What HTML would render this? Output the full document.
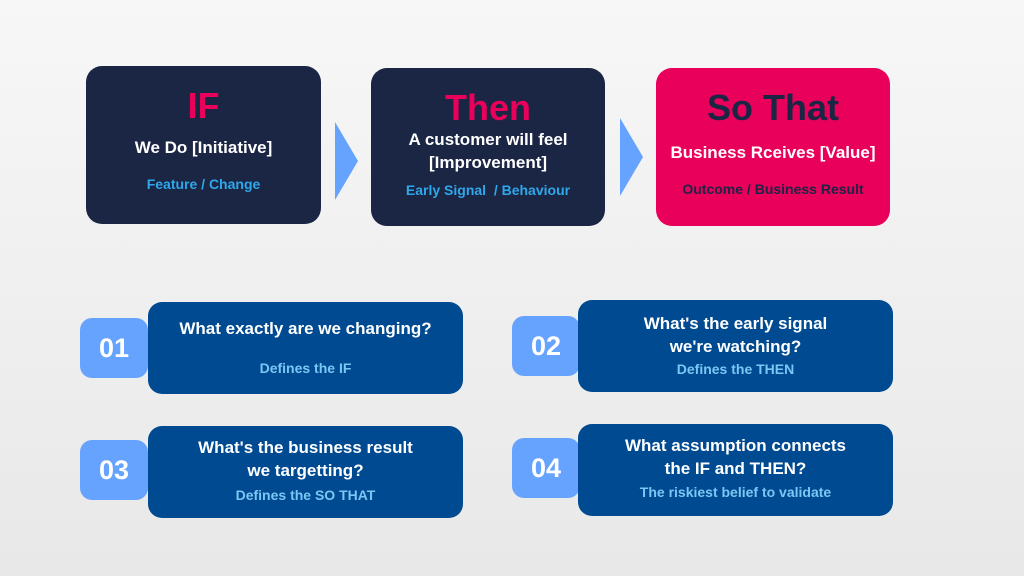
<!DOCTYPE html><html><head><style>
body{margin:0;width:1024px;height:576px;overflow:hidden;background:linear-gradient(180deg,#f7f7f7,#e8e8e8);font-family:"Liberation Sans",sans-serif;position:relative}
.b{position:absolute;border-radius:16px;text-align:center;box-sizing:border-box}
.t{background:#1b2544}
.big{font-weight:bold;font-size:36px;line-height:40px}
.w{color:#fff;font-weight:bold;font-size:17px;line-height:23px}
.c{color:#2ea8ea;font-weight:bold;font-size:14px}
.m{background:#004a91;border-radius:14px}
.n{background:#66a3ff;color:#fff;font-weight:bold;font-size:27px;border-radius:12px;display:flex;align-items:center;justify-content:center}
.q{color:#fff;font-weight:bold;font-size:17px;line-height:23px}
.s{color:#7cc6f5;font-weight:bold;font-size:14px}
.ar{position:absolute;width:0;height:0;border-top:39px solid transparent;border-bottom:39px solid transparent;border-left:23px solid #66a3ff}
</style></head><body>
<div class="b t" style="left:86px;top:66px;width:235px;height:158px">
<div class="big" style="color:#e8005a;margin-top:20px">IF</div>
<div class="w" style="margin-top:10px">We Do [Initiative]</div>
<div class="c" style="margin-top:17px">Feature / Change</div></div>
<div class="ar" style="left:335px;top:122px"></div>
<div class="b t" style="left:371px;top:68px;width:234px;height:158px">
<div class="big" style="color:#e8005a;margin-top:20px">Then</div>
<div class="w" style="margin-top:0px">A customer will feel<br>[Improvement]</div>
<div class="c" style="margin-top:8px">Early Signal &nbsp;/ Behaviour</div></div>
<div class="ar" style="left:620px;top:118px"></div>
<div class="b" style="left:656px;top:68px;width:234px;height:158px;background:#e8005a">
<div class="big" style="color:#1b2544;margin-top:20px">So That</div>
<div class="w" style="margin-top:13px">Business Rceives [Value]</div>
<div class="c" style="margin-top:17px;color:#1b2544">Outcome / Business Result</div></div>

<div class="b n" style="left:80px;top:318px;width:68px;height:60px">01</div>
<div class="b m" style="left:148px;top:302px;width:315px;height:92px"><div class="q" style="margin-top:15px">What exactly are we changing?</div><div class="s" style="margin-top:20px">Defines the IF</div></div>
<div class="b n" style="left:512px;top:316px;width:68px;height:60px">02</div>
<div class="b m" style="left:578px;top:300px;width:315px;height:92px"><div class="q" style="margin-top:12px">What's the early signal<br>we're watching?</div><div class="s" style="margin-top:3px">Defines the THEN</div></div>
<div class="b n" style="left:80px;top:440px;width:68px;height:60px">03</div>
<div class="b m" style="left:148px;top:426px;width:315px;height:92px"><div class="q" style="margin-top:10px">What's the business result<br>we targetting?</div><div class="s" style="margin-top:5px">Defines the SO THAT</div></div>
<div class="b n" style="left:512px;top:438px;width:68px;height:60px">04</div>
<div class="b m" style="left:578px;top:424px;width:315px;height:92px"><div class="q" style="margin-top:10px">What assumption connects<br>the IF and THEN?</div><div class="s" style="margin-top:4px">The riskiest belief to validate</div></div>
</body></html>
